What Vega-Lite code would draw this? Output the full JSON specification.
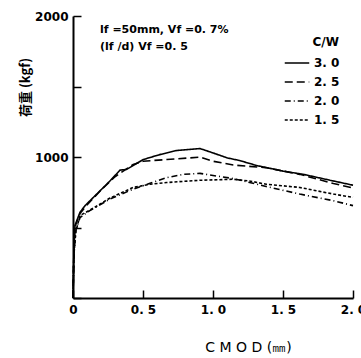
{
  "$schema": "https://vega.github.io/schema/vega-lite/v6.json",
  "width": 280,
  "height": 282,
  "autosize": "none",
  "padding": {"left": 73, "top": 16, "right": 8, "bottom": 60},
  "background": "white",
  "config": {
    "view": {"stroke": null},
    "font": "DejaVu Sans",
    "axis": {
      "grid": false,
      "domainColor": "black",
      "domainWidth": 2,
      "tickColor": "black",
      "tickWidth": 1.5,
      "labelColor": "black",
      "labelFont": "DejaVu Sans",
      "labelFontWeight": "bold",
      "labelFontSize": 12,
      "titleColor": "black"
    },
    "legend": {
      "labelFont": "DejaVu Sans",
      "labelFontWeight": "bold",
      "labelFontSize": 12,
      "labelColor": "black",
      "titleFont": "DejaVu Sans",
      "titleFontWeight": "bold",
      "titleFontSize": 12,
      "titleColor": "black"
    }
  },
  "datasets": {
    "curves": [
      {"cw": "3.0", "cmod": 0.0, "load": 0},
      {"cw": "3.0", "cmod": 0.006, "load": 300},
      {"cw": "3.0", "cmod": 0.014, "load": 514},
      {"cw": "3.0", "cmod": 0.05, "load": 608},
      {"cw": "3.0", "cmod": 0.086, "load": 655},
      {"cw": "3.0", "cmod": 0.193, "load": 760},
      {"cw": "3.0", "cmod": 0.264, "load": 830},
      {"cw": "3.0", "cmod": 0.336, "load": 907},
      {"cw": "3.0", "cmod": 0.383, "load": 912},
      {"cw": "3.0", "cmod": 0.502, "load": 982},
      {"cw": "3.0", "cmod": 0.62, "load": 1017},
      {"cw": "3.0", "cmod": 0.74, "load": 1046},
      {"cw": "3.0", "cmod": 0.907, "load": 1060},
      {"cw": "3.0", "cmod": 1.0, "load": 1029},
      {"cw": "3.0", "cmod": 1.1, "load": 994},
      {"cw": "3.0", "cmod": 1.19, "load": 975},
      {"cw": "3.0", "cmod": 1.31, "load": 940},
      {"cw": "3.0", "cmod": 1.5, "load": 900},
      {"cw": "3.0", "cmod": 1.645, "load": 877},
      {"cw": "3.0", "cmod": 1.86, "load": 830},
      {"cw": "3.0", "cmod": 2.0, "load": 800},

      {"cw": "2.5", "cmod": 0.0, "load": 0},
      {"cw": "2.5", "cmod": 0.006, "load": 300},
      {"cw": "2.5", "cmod": 0.014, "load": 505},
      {"cw": "2.5", "cmod": 0.05, "load": 600},
      {"cw": "2.5", "cmod": 0.1, "load": 660},
      {"cw": "2.5", "cmod": 0.2, "load": 765},
      {"cw": "2.5", "cmod": 0.3, "load": 860},
      {"cw": "2.5", "cmod": 0.43, "load": 947},
      {"cw": "2.5", "cmod": 0.5, "load": 970},
      {"cw": "2.5", "cmod": 0.67, "load": 982},
      {"cw": "2.5", "cmod": 0.907, "load": 999},
      {"cw": "2.5", "cmod": 1.0, "load": 970},
      {"cw": "2.5", "cmod": 1.145, "load": 943},
      {"cw": "2.5", "cmod": 1.38, "load": 924},
      {"cw": "2.5", "cmod": 1.62, "load": 877},
      {"cw": "2.5", "cmod": 1.86, "load": 812},
      {"cw": "2.5", "cmod": 2.0, "load": 780},

      {"cw": "2.0", "cmod": 0.0, "load": 0},
      {"cw": "2.0", "cmod": 0.006, "load": 300},
      {"cw": "2.0", "cmod": 0.02, "load": 480},
      {"cw": "2.0", "cmod": 0.05, "load": 570},
      {"cw": "2.0", "cmod": 0.12, "load": 620},
      {"cw": "2.0", "cmod": 0.264, "load": 702},
      {"cw": "2.0", "cmod": 0.43, "load": 772},
      {"cw": "2.0", "cmod": 0.55, "load": 814},
      {"cw": "2.0", "cmod": 0.67, "load": 854},
      {"cw": "2.0", "cmod": 0.79, "load": 877},
      {"cw": "2.0", "cmod": 0.907, "load": 884},
      {"cw": "2.0", "cmod": 1.026, "load": 865},
      {"cw": "2.0", "cmod": 1.145, "load": 847},
      {"cw": "2.0", "cmod": 1.38, "load": 791},
      {"cw": "2.0", "cmod": 1.62, "load": 737},
      {"cw": "2.0", "cmod": 1.86, "load": 690},
      {"cw": "2.0", "cmod": 2.0, "load": 655},

      {"cw": "1.5", "cmod": 0.0, "load": 0},
      {"cw": "1.5", "cmod": 0.006, "load": 300},
      {"cw": "1.5", "cmod": 0.02, "load": 470},
      {"cw": "1.5", "cmod": 0.05, "load": 585},
      {"cw": "1.5", "cmod": 0.15, "load": 640},
      {"cw": "1.5", "cmod": 0.264, "load": 709},
      {"cw": "1.5", "cmod": 0.43, "load": 784},
      {"cw": "1.5", "cmod": 0.55, "load": 807},
      {"cw": "1.5", "cmod": 0.67, "load": 819},
      {"cw": "1.5", "cmod": 0.907, "load": 835},
      {"cw": "1.5", "cmod": 1.145, "load": 842},
      {"cw": "1.5", "cmod": 1.26, "load": 830},
      {"cw": "1.5", "cmod": 1.38, "load": 807},
      {"cw": "1.5", "cmod": 1.62, "load": 784},
      {"cw": "1.5", "cmod": 1.86, "load": 737},
      {"cw": "1.5", "cmod": 2.0, "load": 714}
    ],
    "notes": [
      {"cmod": 0.193, "load": 1900, "label": "lf =50mm, Vf =0. 7%"},
      {"cmod": 0.193, "load": 1780, "label": "(lf /d) Vf =0. 5"}
    ]
  },
  "layer": [
    {
      "data": {"name": "curves"},
      "mark": {"type": "line", "color": "black", "strokeWidth": 1.6},
      "encoding": {
        "x": {
          "field": "cmod", "type": "quantitative",
          "scale": {"domain": [0, 2], "nice": false},
          "axis": {
            "values": [0, 0.5, 1, 1.5, 2],
            "tickSize": -8,
            "labelPadding": 14,
            "labelExpr": "datum.value == 0 ? '0' : replace(format(datum.value, '.1f'), '.', '. ')",
            "labelFlush": false,
            "labelOverlap": false,
            "encode": {"labels": {"update": {"dx": {"signal": "datum.value == 0 ? -11 : 0"}}}},
            "title": "C M O D (㎜)",
            "titleFont": "DejaVu Sans",
            "titleFontWeight": "normal",
            "titleFontSize": 14,
            "titleX": 175,
            "titleY": 49,
            "titleBaseline": "middle"
          }
        },
        "y": {
          "field": "load", "type": "quantitative",
          "scale": {"domain": [0, 2000], "nice": false},
          "axis": {
            "values": [0, 500, 1000, 1500, 2000],
            "tickSize": -8,
            "labelPadding": 13,
            "labelExpr": "datum.value == 1000 || datum.value == 2000 ? datum.value : ''",
            "labelFlush": false,
            "labelOverlap": false,
            "title": "荷重 (kgf)",
            "titleFont": "Noto Sans CJK JP",
            "titleFontWeight": "bold",
            "titleFontSize": 13,
            "titleX": -48,
            "titleY": 71,
            "titleAlign": "center",
            "titleBaseline": "middle"
          }
        },
        "strokeDash": {
          "field": "cw", "type": "nominal",
          "sort": ["3.0", "2.5", "2.0", "1.5"],
          "scale": {"domain": ["3.0", "2.5", "2.0", "1.5"], "range": [[1, 0], [8, 4], [6, 3, 1, 3], [3, 2]]},
          "legend": {
            "orient": "none",
            "legendX": 211,
            "legendY": 21,
            "title": "C/W",
            "titleAnchor": "end",
            "titleAlign": "right",
            "titlePadding": 1,
            "symbolType": "stroke",
            "symbolSize": 600,
            "symbolStrokeColor": "black",
            "symbolStrokeWidth": 1.5,
            "labelExpr": "replace(datum.label, '.', '. ')",
            "labelOffset": 4,
            "rowPadding": 0
          }
        }
      }
    },
    {
      "data": {"name": "notes"},
      "mark": {"type": "text", "align": "left", "baseline": "middle", "font": "DejaVu Sans", "fontWeight": "bold", "fontSize": 11, "color": "black"},
      "encoding": {
        "x": {"field": "cmod", "type": "quantitative"},
        "y": {"field": "load", "type": "quantitative"},
        "text": {"field": "label"}
      }
    }
  ]
}
